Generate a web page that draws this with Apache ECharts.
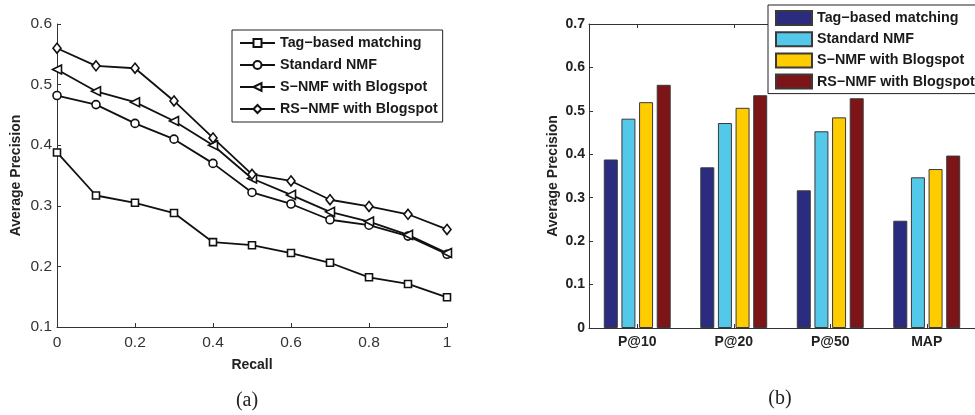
<!DOCTYPE html>
<html>
<head>
<meta charset="utf-8">
<style>
  html, body { margin: 0; padding: 0; background: #fff; }
  #chart { width: 975px; height: 415px; }
</style>
<script src="https://cdn.jsdelivr.net/npm/echarts@6/dist/echarts.min.js"></script>
</head>
<body>
<div id="chart"></div>
<script>
// Panel (a): precision against recall
const recall = [0, 0.1, 0.2, 0.3, 0.4, 0.5, 0.6, 0.7, 0.8, 0.9, 1.0];
const tagBasedCurve = [0.388, 0.317, 0.305, 0.288, 0.240, 0.235, 0.222, 0.206, 0.182, 0.171, 0.149];
const standardNmfCurve = [0.482, 0.467, 0.436, 0.410, 0.370, 0.322, 0.303, 0.277, 0.268, 0.250, 0.220];
const sNmfCurve = [0.525, 0.489, 0.471, 0.440, 0.400, 0.345, 0.318, 0.290, 0.274, 0.252, 0.222];
const rsNmfCurve = [0.560, 0.531, 0.527, 0.473, 0.412, 0.352, 0.341, 0.310, 0.299, 0.286, 0.261];

// Panel (b): precision at cut-offs and MAP
const metrics = ['P@10', 'P@20', 'P@50', 'MAP'];
const tagBasedBars = [0.388, 0.370, 0.317, 0.247];
const standardNmfBars = [0.482, 0.472, 0.453, 0.347];
const sNmfBars = [0.520, 0.507, 0.485, 0.366];
const rsNmfBars = [0.560, 0.536, 0.529, 0.397];

const methodNames = ['Tag−based matching', 'Standard NMF', 'S−NMF with Blogspot', 'RS−NMF with Blogspot'];
const barColors = ['#2B2B80', '#54C8E8', '#FFCC00', '#7D1418'];

const SANS = '"Liberation Sans", Arial, Helvetica, sans-serif';
const axisInk = '#333';

const pairs = vals => recall.map((r, i) => [r, vals[i]]);

const lineSpec = [
  { vals: tagBasedCurve, symbol: 'rect', size: 7, rotate: 0 },
  { vals: standardNmfCurve, symbol: 'circle', size: 8, rotate: 0 },
  { vals: sNmfCurve, symbol: 'triangle', size: 9, rotate: 90 },
  { vals: rsNmfCurve, symbol: 'diamond', size: [8, 10], rotate: 0 }
];

const lineSeries = lineSpec.map((s, i) => ({
  name: methodNames[i],
  type: 'line',
  xAxisIndex: 0,
  yAxisIndex: 0,
  data: pairs(s.vals),
  symbol: s.symbol,
  symbolSize: s.size,
  symbolRotate: s.rotate,
  showAllSymbol: true,
  clip: false,
  animation: false,
  lineStyle: { color: '#111', width: 1.8 },
  itemStyle: { color: '#fff', borderColor: '#111', borderWidth: 1.6 },
  emphasis: { disabled: true }
}));

// Bar series names carry a trailing space so each panel keeps its own legend
const barData = [tagBasedBars, standardNmfBars, sNmfBars, rsNmfBars];
const barSeries = barData.map((vals, i) => ({
  name: methodNames[i] + ' ',
  type: 'bar',
  xAxisIndex: 2,
  yAxisIndex: 1,
  data: vals,
  barWidth: 14,
  barGap: '26%',
  animation: false,
  itemStyle: { color: barColors[i], borderColor: '#3a3a3a', borderWidth: 1 },
  emphasis: { disabled: true }
}));

const chart = echarts.init(document.getElementById('chart'), null, { renderer: 'canvas' });

chart.setOption({
  backgroundColor: '#fff',
  animation: false,
  grid: [
    { left: 57, top: 24, width: 390, height: 303 },
    { left: 589, top: 24, width: 392, height: 304, show: false }
  ],
  legend: [
    {
      data: methodNames,
      orient: 'vertical',
      left: 232, top: 30,
      padding: [6, 5, 6, 7],
      itemWidth: 35, itemHeight: 10, itemGap: 8,
      backgroundColor: '#fff',
      borderColor: '#222', borderWidth: 1,
      selectedMode: false,
      textStyle: { fontFamily: SANS, fontWeight: 'bold', fontSize: 14.3, color: '#1a1a1a' }
    },
    {
      data: methodNames.map(n => ({ name: n + ' ', icon: 'rect' })),
      orient: 'vertical',
      left: 768, top: 5,
      padding: [5, 6, 4, 7],
      itemWidth: 36, itemHeight: 14, itemGap: 5.2,
      backgroundColor: '#fff',
      borderColor: '#222', borderWidth: 1,
      selectedMode: false,
      formatter: n => n.trim(),
      textStyle: { fontFamily: SANS, fontWeight: 'bold', fontSize: 14.3, color: '#1a1a1a' }
    }
  ],
  xAxis: [
    {
      gridIndex: 0, type: 'value', min: 0, max: 1, interval: 0.2,
      name: 'Recall', nameLocation: 'middle', nameGap: 31,
      nameTextStyle: { fontFamily: SANS, fontWeight: 'bold', fontSize: 14, color: '#222' },
      axisLine: { show: true, onZero: false, lineStyle: { color: axisInk, width: 1 } },
      axisTick: { show: true, inside: true, length: 4, lineStyle: { color: axisInk } },
      axisLabel: { fontFamily: SANS, fontSize: 15.5, color: '#333', margin: 8 },
      splitLine: { show: false }
    },
    {
      gridIndex: 1, type: 'category', data: metrics, position: 'top',
      axisLine: { show: true, onZero: false, lineStyle: { color: axisInk, width: 1 } },
      axisTick: { show: true, inside: true, length: 4, alignWithLabel: true, lineStyle: { color: axisInk } },
      axisLabel: { show: false },
      splitLine: { show: false }
    },
    {
      gridIndex: 1, type: 'category', data: metrics, position: 'bottom',
      axisLine: { show: true, onZero: false, lineStyle: { color: axisInk, width: 1 } },
      axisTick: { show: true, inside: true, length: 4, alignWithLabel: true, lineStyle: { color: axisInk } },
      axisLabel: { fontFamily: SANS, fontWeight: 'bold', fontSize: 14, color: '#222', margin: 7 },
      splitLine: { show: false }
    }
  ],
  yAxis: [
    {
      gridIndex: 0, type: 'value', min: 0.1, max: 0.6, interval: 0.1,
      name: 'Average Precision', nameLocation: 'middle', nameGap: 34, nameRotate: 90,
      nameTextStyle: { fontFamily: SANS, fontWeight: 'bold', fontSize: 14, color: '#222' },
      axisLine: { show: true, onZero: false, lineStyle: { color: axisInk, width: 1 } },
      axisTick: { show: true, inside: true, length: 4, lineStyle: { color: axisInk } },
      axisLabel: { fontFamily: SANS, fontSize: 15.5, color: '#333', margin: 5 },
      splitLine: { show: false }
    },
    {
      gridIndex: 1, type: 'value', min: 0, max: 0.7, interval: 0.1,
      name: 'Average Precision', nameLocation: 'middle', nameGap: 29, nameRotate: 90,
      nameTextStyle: { fontFamily: SANS, fontWeight: 'bold', fontSize: 14, color: '#222' },
      axisLine: { show: true, onZero: false, lineStyle: { color: axisInk, width: 1 } },
      axisTick: { show: true, inside: true, length: 4, lineStyle: { color: axisInk } },
      axisLabel: { fontFamily: SANS, fontWeight: 'bold', fontSize: 14, color: '#222', margin: 4 },
      splitLine: { show: false }
    }
  ],
  graphic: [
    {
      type: 'text', x: 247, y: 401,
      style: { text: '(a)', font: '20px "Liberation Serif", "DejaVu Serif", serif', fill: '#222', textAlign: 'center', textVerticalAlign: 'middle' }
    },
    {
      type: 'text', x: 780, y: 399,
      style: { text: '(b)', font: '20px "Liberation Serif", "DejaVu Serif", serif', fill: '#222', textAlign: 'center', textVerticalAlign: 'middle' }
    }
  ],
  series: lineSeries.concat(barSeries)
});
</script>
</body>
</html>
